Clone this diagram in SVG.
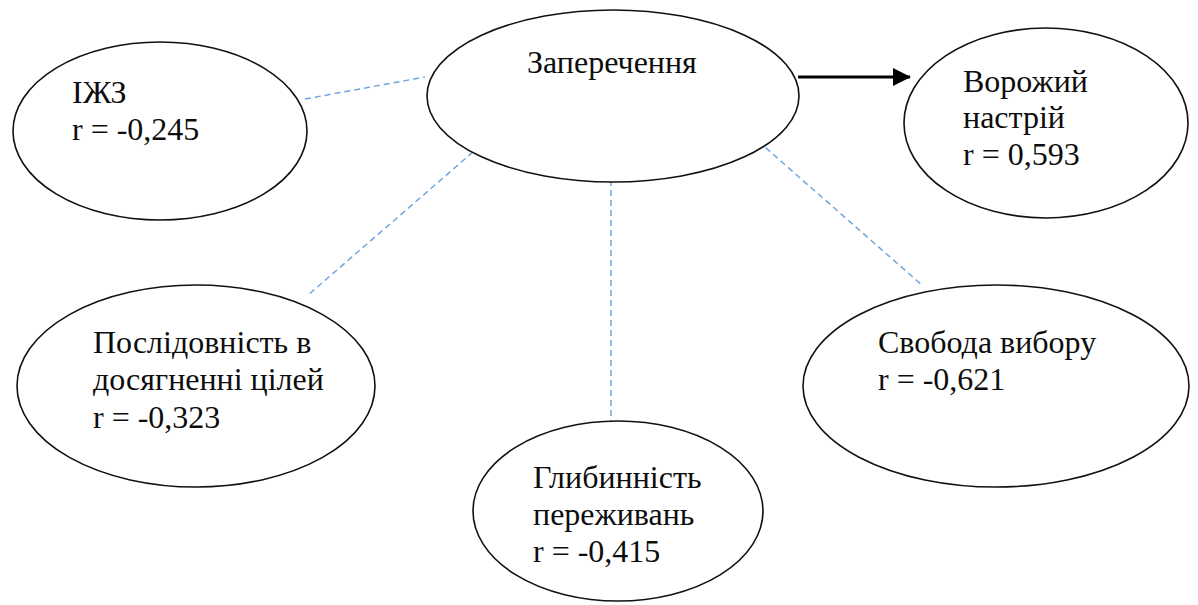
<svg xmlns="http://www.w3.org/2000/svg" width="1198" height="605" viewBox="0 0 1198 605">
  <defs>
    <style>
      .node { fill: #ffffff; stroke: #111111; stroke-width: 1.6; }
      .label { font-size: 32px; fill: #0d0d0d; }
      .link { stroke: #6fa6dc; stroke-width: 1.5; stroke-dasharray: 6 4; fill: none; }
      .arrow { stroke: #000000; stroke-width: 3; fill: none; }
    </style>
    <marker id="head" markerWidth="6" markerHeight="6" refX="5.7" refY="3" orient="auto" markerUnits="strokeWidth">
      <path d="M0,0 L6,3 L0,6 Z" fill="#000000"/>
    </marker>
  </defs>

  <rect x="0" y="0" width="1198" height="605" fill="#ffffff"/>

  <!-- connectors -->
  <g id="connectors">
    <line class="link" x1="305" y1="99" x2="425" y2="77"/>
    <line class="link" x1="473" y1="152" x2="307" y2="296"/>
    <line class="link" x1="611" y1="180" x2="611" y2="422"/>
    <line class="link" x1="758" y1="141" x2="923" y2="286"/>
    <line class="arrow" x1="798" y1="77" x2="910" y2="77" marker-end="url(#head)"/>
  </g>

  <g font-family="'Liberation Serif', 'DejaVu Serif', serif">
    <!-- central concept -->
    <g id="node-zaperechennia">
      <ellipse class="node" cx="613" cy="96" rx="186" ry="86"/>
      <text class="label" x="527" y="73">Заперечення</text>
    </g>

    <g id="node-izhz">
      <ellipse class="node" cx="160" cy="131" rx="147" ry="89"/>
      <text class="label" x="72" y="103">ІЖЗ</text>
      <text class="label" x="72" y="140">r = -0,245</text>
    </g>

    <g id="node-vorozhyi">
      <ellipse class="node" cx="1046" cy="123" rx="142" ry="95"/>
      <text class="label" x="963" y="92">Ворожий</text>
      <text class="label" x="963" y="128">настрій</text>
      <text class="label" x="963" y="165">r = 0,593</text>
    </g>

    <g id="node-poslidovnist">
      <ellipse class="node" cx="196" cy="386" rx="179" ry="101"/>
      <text class="label" x="93" y="353">Послідовність в</text>
      <text class="label" x="93" y="390">досягненні цілей</text>
      <text class="label" x="93" y="428">r = -0,323</text>
    </g>

    <g id="node-hlybynnist">
      <ellipse class="node" cx="618" cy="511" rx="145" ry="90"/>
      <text class="label" x="533" y="488">Глибинність</text>
      <text class="label" x="533" y="525">переживань</text>
      <text class="label" x="533" y="562">r = -0,415</text>
    </g>

    <g id="node-svoboda">
      <ellipse class="node" cx="996" cy="386" rx="193" ry="101"/>
      <text class="label" x="878" y="353">Свобода вибору</text>
      <text class="label" x="878" y="390">r = -0,621</text>
    </g>
  </g>
</svg>
